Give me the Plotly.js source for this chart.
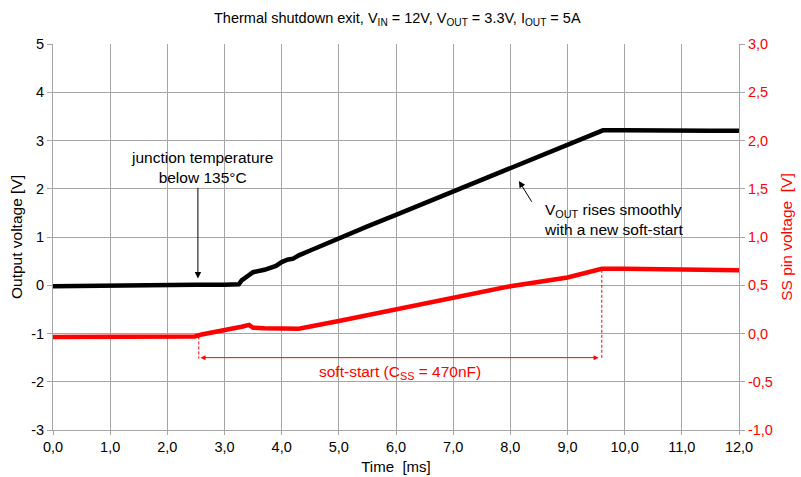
<!DOCTYPE html>
<html>
<head>
<meta charset="utf-8">
<script src="https://cdn.plot.ly/plotly-3.0.1.min.js"></script>
<style>html,body{margin:0;padding:0;background:#fff;}#chart{width:801px;height:477px;}</style>
</head>
<body>
<div id="chart"></div>
<script>
// Output voltage (left axis), time in ms
const voutTime = [0, 0.5, 1, 1.5, 2, 2.5, 3, 3.25, 3.3, 3.4, 3.5, 3.7, 3.9, 4.0, 4.1, 4.2, 4.3, 4.5, 4.8, 5.0, 5.5, 6.0, 6.5, 7.0, 7.5, 8.0, 8.5, 9.0, 9.5, 9.62, 10, 10.5, 11, 11.5, 12];
const voutValue = [-0.02, -0.01, -0.01, 0, 0, 0.01, 0.01, 0.02, 0.1, 0.2, 0.27, 0.32, 0.4, 0.48, 0.53, 0.55, 0.62, 0.72, 0.87, 0.99, 1.22, 1.46, 1.7, 1.95, 2.19, 2.43, 2.66, 2.9, 3.14, 3.21, 3.21, 3.2, 3.2, 3.2, 3.2];
// SS pin voltage (right axis)
const ssTime = [0, 1, 2, 2.48, 2.6, 3.0, 3.3, 3.43, 3.5, 3.7, 4.0, 4.3, 5.0, 6.0, 7.0, 8.0, 9.0, 9.6, 10, 11, 12];
const ssValue = [-0.035, -0.035, -0.033, -0.03, -0.01, 0.03, 0.07, 0.09, 0.06, 0.055, 0.055, 0.05, 0.13, 0.25, 0.37, 0.49, 0.58, 0.67, 0.67, 0.66, 0.655];
// axis ticks
const xTicks = [0,1,2,3,4,5,6,7,8,9,10,11,12];
const xTickText = ['0,0','1,0','2,0','3,0','4,0','5,0','6,0','7,0','8,0','9,0','10,0','11,0','12,0'];
const yTicks = [-3,-2,-1,0,1,2,3,4,5];
const yTickText = ['-3','-2','-1','0','1','2','3','4','5'];
const y2Ticks = [-1,-0.5,0,0.5,1,1.5,2,2.5,3];
const y2TickText = ['-1,0','-0,5','0,0','0,5','1,0','1,5','2,0','2,5','3,0'];

const font = 'Liberation Sans, Arial, sans-serif';
const grid = '#a6a6a6';
const red = '#ff0000';

const traces = [
  {x: voutTime, y: voutValue, mode: 'lines', line: {color: '#000', width: 4.5}, yaxis: 'y', hoverinfo: 'skip'},
  {x: ssTime, y: ssValue, mode: 'lines', line: {color: red, width: 4.5}, yaxis: 'y2', hoverinfo: 'skip'}
];

const layout = {
  width: 801, height: 477,
  margin: {l: 53, r: 62, t: 44, b: 47},
  paper_bgcolor: '#fff', plot_bgcolor: '#fff',
  showlegend: false,
  font: {family: font, size: 14, color: '#000'},
  title: {text: 'Thermal shutdown exit, V<sub>IN</sub> = 12V, V<sub>OUT</sub> = 3.3V, I<sub>OUT</sub> = 5A', font: {family: font, size: 14.5, color: '#000'}, x: 0.496, xanchor: 'center', y: 0.963, yanchor: 'middle'},
  xaxis: {range: [0, 12], tickvals: xTicks, ticktext: xTickText, showgrid: true, gridcolor: grid, gridwidth: 1,
    showline: true, linecolor: grid, linewidth: 1, ticks: 'outside', ticklen: 4, tickcolor: grid, zeroline: false,
    tickfont: {size: 14.5}, title: {text: 'Time  [ms]', font: {size: 15}, standoff: 7}},
  yaxis: {range: [-3, 5], tickvals: yTicks, ticktext: yTickText, showgrid: true, gridcolor: grid, gridwidth: 1,
    showline: true, linecolor: grid, linewidth: 1, ticks: 'outside', ticklen: 5, tickcolor: grid, zeroline: false,
    tickfont: {size: 14.5}, title: {text: 'Output voltage [V]', font: {size: 15.5}, standoff: 4}},
  yaxis2: {range: [-1, 3], tickvals: y2Ticks, ticktext: y2TickText, overlaying: 'y', side: 'right', showgrid: false,
    showline: true, linecolor: grid, linewidth: 1, ticks: 'outside', ticklen: 5, tickcolor: grid, zeroline: false,
    tickfont: {size: 14.5, color: red}, title: {text: 'SS pin voltage  [V]', font: {size: 15.5, color: red}, standoff: 9}},
  shapes: [
    {type: 'line', xref: 'x', yref: 'y2', x0: 2.55, x1: 2.55, y0: -0.03, y1: -0.26, line: {color: red, width: 1, dash: '3px,2px'}},
    {type: 'line', xref: 'x', yref: 'y2', x0: 9.6, x1: 9.6, y0: 0.66, y1: -0.27, line: {color: red, width: 1, dash: '3px,2px'}}
  ],
  annotations: [
    {text: 'junction temperature<br>below 135°C', x: 2.6, y: 2.45, xref: 'x', yref: 'y', showarrow: false, font: {size: 15.5}, align: 'center'},
    {text: '', x: 2.535, y: 0.14, ax: 2.535, ay: 2.05, xref: 'x', yref: 'y', axref: 'x', ayref: 'y', showarrow: true, arrowhead: 2, arrowsize: 1.3, arrowwidth: 1, arrowcolor: '#000'},
    {text: 'V<sub>OUT</sub> rises smoothly<br>with a new soft-start', x: 8.55, y: 1.37, xref: 'x', yref: 'y', xanchor: 'left', showarrow: false, font: {size: 15.5}, align: 'left'},
    {text: '', x: 8.15, y: 2.16, ax: 8.39, ay: 1.7, xref: 'x', yref: 'y', axref: 'x', ayref: 'y', showarrow: true, arrowhead: 2, arrowsize: 1.3, arrowwidth: 1, arrowcolor: '#000'},
    {text: '', x: 2.58, y: -0.25, ax: 9.57, ay: -0.25, xref: 'x', yref: 'y2', axref: 'x', ayref: 'y2', showarrow: true, arrowhead: 2, startarrowhead: 2, arrowside: 'end+start', arrowsize: 1, arrowwidth: 1, arrowcolor: red},
    {text: 'soft-start (C<sub>SS</sub> = 470nF)', x: 6.07, y: -0.4, xref: 'x', yref: 'y2', showarrow: false, font: {size: 15.5, color: red}}
  ]
};

Plotly.newPlot('chart', traces, layout, {staticPlot: true, displayModeBar: false});
</script>
</body>
</html>
